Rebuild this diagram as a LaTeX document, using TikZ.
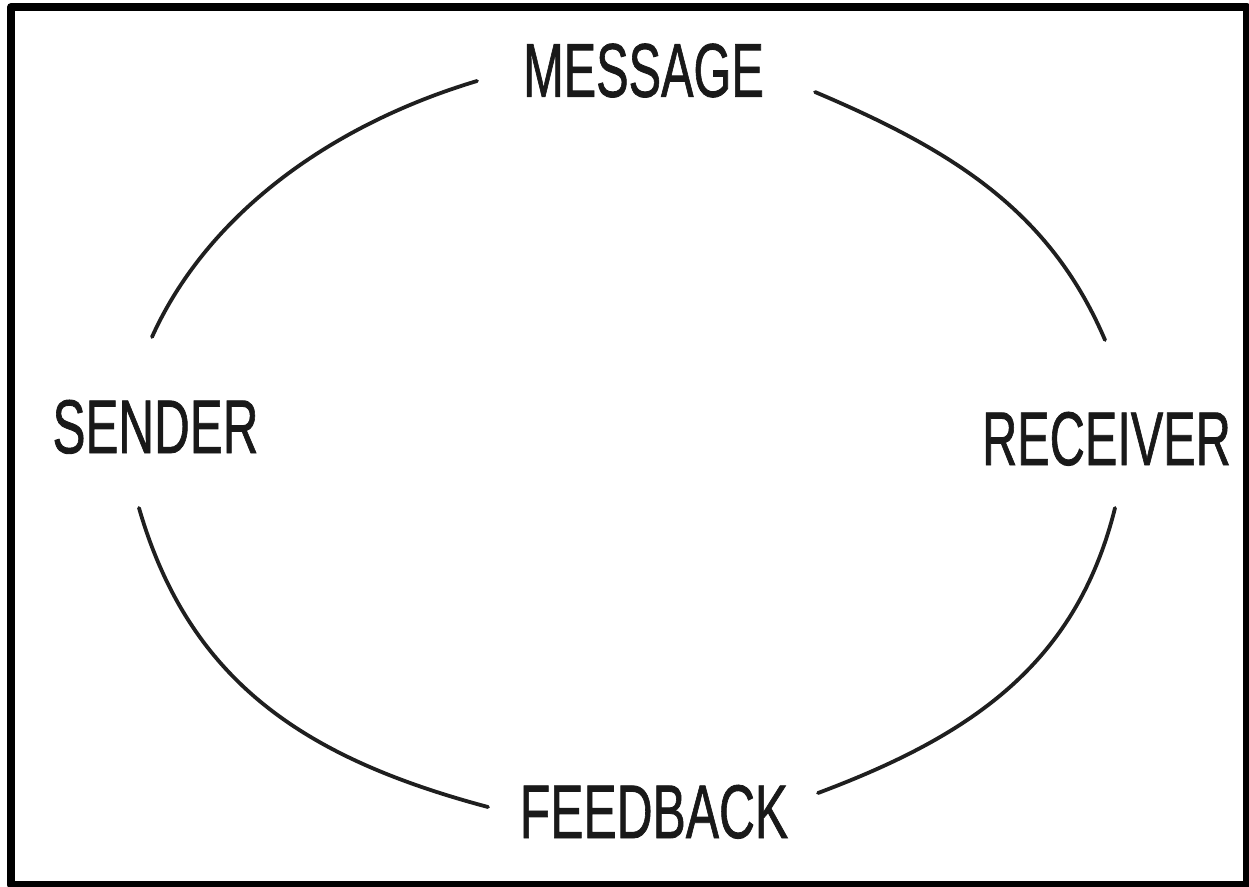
\documentclass[tikz,border=0pt]{standalone}
\usepackage{graphicx}
\usepackage{fontspec}
\setmainfont{Liberation Sans}
\newfontfamily\labfont[FakeBold=1.2]{Liberation Sans}
\begin{document}
\begin{tikzpicture}[x=1pt,y=-1pt,
  lab/.style={inner sep=0pt, anchor=base, text=black!90, font=\labfont\fontsize{76}{80}\selectfont},
  arcline/.style={line width=3.8pt, line cap=round, draw=black!88}]
\useasboundingbox (0,0) rectangle (1249,886);
\draw[line width=8pt, line join=round] (11,7) rectangle (1247,885);
% labels
\node[lab] (msg) at (643.5,96.7) {\scalebox{0.64}[1]{MESSAGE}};
\node[lab] (snd) at (155.5,453) {\scalebox{0.65}[1]{SENDER}};
\node[lab] (rcv) at (1106.5,465) {\scalebox{0.64}[1]{RECEIVER}};
\node[lab] (fbk) at (654,838) {\scalebox{0.655}[1]{FEEDBACK}};
% arc end points
\coordinate (tl1) at (152,337);
\coordinate (tl2) at (477,81);
\coordinate (tr1) at (815,92);
\coordinate (tr2) at (1105,340);
\coordinate (bl1) at (139,508);
\coordinate (bl2) at (488,807);
\coordinate (br1) at (1115,508);
\coordinate (br2) at (818,793);
% arcs
\draw[arcline] (tl1) .. controls +(54,-120) and +(-150,45) .. (tl2);
\draw[arcline] (tr1) .. controls +(138,58.5) and +(-55,-129) .. (tr2);
\draw[arcline] (bl1) .. controls +(50,173) and +(-184,-49) .. (bl2);
\draw[arcline] (br1) .. controls +(-39,157) and +(152,-57) .. (br2);
\end{tikzpicture}
\end{document}
